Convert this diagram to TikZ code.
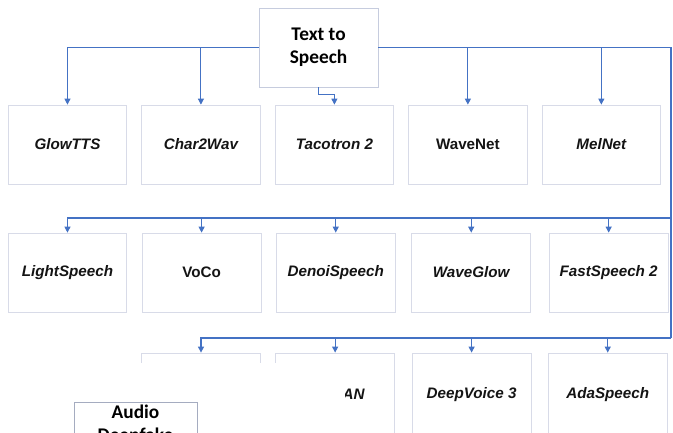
\documentclass[tikz,border=0pt]{standalone}
\usepackage{fontspec}
\setmainfont{Liberation Sans}
\newfontfamily\calib{Carlito}
\usetikzlibrary{arrows.meta, positioning}
\definecolor{wireblue}{RGB}{68,114,196}
\definecolor{rimgray}{RGB}{216,219,232}
\definecolor{topgray}{RGB}{198,204,222}
\definecolor{audgray}{RGB}{165,172,192}
\definecolor{inkgray}{RGB}{20,20,20}
\tikzset{
  mbox/.style={draw=rimgray, line width=0.6pt, fill=white, minimum width=89pt, minimum height=59.25pt,
    inner sep=0pt, text=inkgray, font=\fontsize{11.4}{13.5}\selectfont\bfseries\itshape},
  up/.style={font=\fontsize{11.4}{13.5}\selectfont\bfseries},
  head/.style={draw=topgray, line width=0.6pt, fill=white, minimum width=89.25pt, minimum height=59.25pt,
    align=center, font=\calib\fontsize{14.5}{17.25}\selectfont\bfseries},
  wire/.style={draw=wireblue, line width=0.8pt},
  arr/.style={wire, -{Triangle[length=4.5pt, width=4.5pt]}},
}
\begin{document}
\begin{tikzpicture}[x=1pt, y=1pt, low/.style={mbox, minimum height=62pt}]
    \useasboundingbox (0,0) rectangle (504.75,-324);
    \node[head] (tts) at (238.9,-35.6) {Text to\\Speech};
    \node[mbox] (glow) at (50.6,-108.4) {GlowTTS};
    \node[mbox, right=10.5pt of glow] (c2w) {Char2Wav};
    \node[mbox, right=10.5pt of c2w] (taco) {Tacotron 2};
    \node[mbox, up, right=10.5pt of taco] (wnet) {WaveNet};
    \node[mbox, right=10.5pt of wnet] (mnet) {MelNet};
    \node[mbox] (light) at (50.6,-204.4) {LightSpeech};
    \node[mbox, up, right=11pt of light] (voco) {VoCo};
    \node[mbox, right=11pt of voco] (denoi) {DenoiSpeech};
    \node[mbox, right=12pt of denoi] (wglow) {WaveGlow};
    \node[mbox, right=13.5pt of wglow] (fast2) {FastSpeech 2};
    \node[low] (r3a) at (150.75,-295.75) {};
    \node[low, right=11pt of r3a] (mgan) {\phantom{MelG}AN};
    \node[low, right=12.75pt of mgan] (dv3) {DeepVoice 3};
    \node[low, right=12.5pt of dv3] (ada) {AdaSpeech};
    \coordinate (b2) at (503.25,-163.5);
    \coordinate (b3) at (503.25,-253.5);
    \draw[arr] (tts.west) -| (glow.north);
    \draw[arr] (tts.west -| c2w.north) -- (c2w.north);
    \draw[arr] (tts.south) -- ++(0,-5.25) -| (taco.north);
    \draw[arr] (tts.east -| wnet.north) -- (wnet.north);
    \draw[arr] (tts.east -| mnet.north) -- (mnet.north);
    \draw[wire] (tts.east) -| (b3);
    \draw[arr] (b2) -| (light.north);
    \foreach \n in {voco, denoi, wglow, fast2}
      \draw[arr] (b2 -| \n.north) -- (\n.north);
    \draw[arr] (b3) -| (r3a.north);
    \foreach \n in {mgan, dv3, ada}
      \draw[arr] (b3 -| \n.north) -- (\n.north);
    \fill[white] (0,-272.25) rectangle (258.75,-330);
    \node[draw=audgray, line width=0.6pt, fill=white, anchor=north, minimum width=92.25pt, inner ysep=2pt,
      align=center, font=\calib\fontsize{14.5}{17.25}\selectfont\bfseries] (adf) at (101.6,-301.5) {Audio\\Deepfake};
  \end{tikzpicture}
\end{document}
